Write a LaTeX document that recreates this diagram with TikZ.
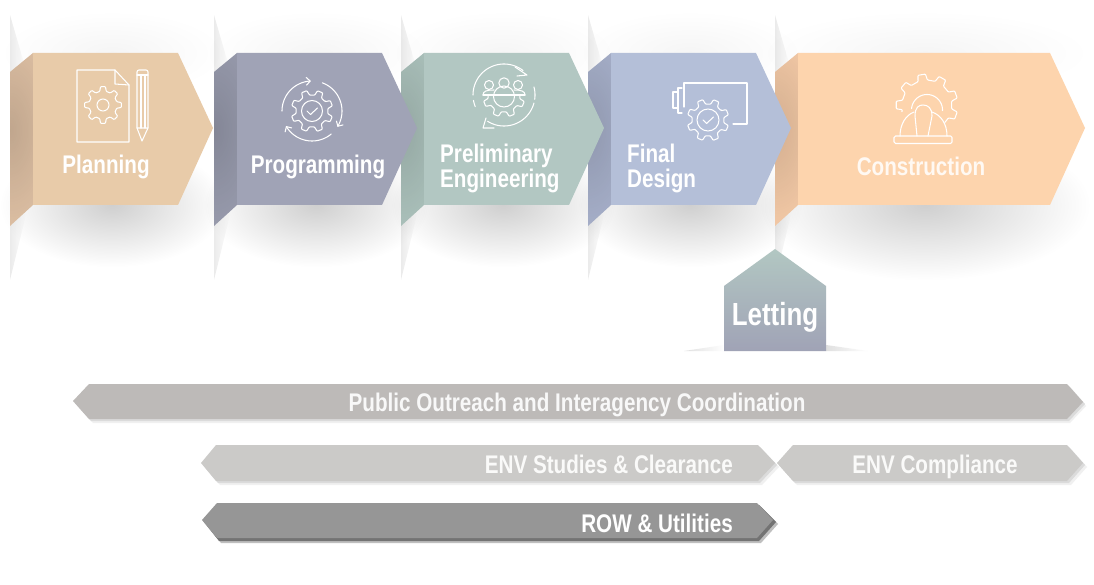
\documentclass[tikz,border=0pt]{standalone}
\usepackage{fontspec}
\usetikzlibrary{fadings,arrows.meta}
\newfontfamily\lblfont[FakeStretch=0.81]{Liberation Sans}
\definecolor{cPlan}{HTML}{E8CBA9}
\definecolor{cPlanF}{HTML}{DDBFA3}
\definecolor{cProg}{HTML}{A0A3B6}
\definecolor{cProgF}{HTML}{989BAD}
\definecolor{cPrel}{HTML}{B2C7C2}
\definecolor{cPrelF}{HTML}{ABC1BB}
\definecolor{cFinal}{HTML}{B4BFD8}
\definecolor{cFinalF}{HTML}{A6AFC9}
\definecolor{cCons}{HTML}{FDD4AD}
\definecolor{cConsF}{HTML}{F3C9A6}
\definecolor{cBarA}{HTML}{BDBAB8}
\definecolor{cBarB}{HTML}{CBCAC8}
\definecolor{cBarC}{HTML}{969696}
\tikzfading[name=softblob, inner color=transparent!0, outer color=transparent!100]
\tikzfading[name=fadeR, left color=transparent!0, right color=transparent!100]
\tikzset{
  iconline/.style={draw=white,line width=1.05pt,line join=round,line cap=round},
  steplabel/.style={text=white,font=\lblfont\bfseries\fontsize{25.5}{26}\selectfont,inner sep=0pt,anchor=base},
  barlabel/.style={text=white,font=\lblfont\bfseries\fontsize{25.5}{26}\selectfont,inner sep=0pt,anchor=base}
}
% gear: cx cy router rinner teeth rotation
\newcommand\gearicon[6]{%
  \pgfmathsetmacro\gst{360/#5}%
  \pgfmathtruncatemacro\glast{#5-1}%
  \begin{scope}[shift={(#1,#2)},rotate=#6]
  \draw[iconline,rounded corners=0.8pt] ({-.30*\gst}:#4)
    \foreach \gi in {0,...,\glast}{
      -- ({\gi*\gst-.30*\gst}:#4) -- ({\gi*\gst-.17*\gst}:#3)
      -- ({\gi*\gst+.17*\gst}:#3) -- ({\gi*\gst+.30*\gst}:#4)} -- cycle;
  \end{scope}}
% arc in image angles: cx cy r a b opts
\newcommand\ringarc[6]{%
  \draw[iconline,#6] plot[domain=#4:#5,samples=36] ({#1+#3*cos(\x)},{#2+#3*sin(\x)});}
% step: x xr main flap
\newcommand\stepshape[4]{%
  \fill[#4] (#1,72) -- (#1+23,53) -- (#1+23,205) -- (#1,226) -- cycle;
  \begin{scope}
    \clip (#1,72) -- (#1+23,53) -- (#1+23,205) -- (#1,226) -- cycle;
    \fill[black,opacity=.13,path fading=softblob] (#1-50,30) rectangle (#1+50,230);
  \end{scope}
  \fill[#3] (#1+23,53) -- (#2,53) -- (#2+35,128) -- (#2,205) -- (#1+23,205) -- cycle;}
% crease at x
\newcommand\stepcrease[1]{%
  \fill[black,opacity=.08,path fading=fadeR] (#1,15) -- (#1+16,70) -- (#1+16,215) -- (#1,280) -- cycle;}
% soft shadow: centre x, half width, half height
\newcommand\stepshadow[3]{%
  \fill[black,opacity=.04,path fading=softblob] (#1-#2,53-42) rectangle (#1+#2,53+42);
  \fill[black,opacity=.19,path fading=softblob] (#1-#2,205-#3) rectangle (#1+#2,205+#3);}
\newcommand\okmark[2]{\draw[iconline] (#1-5,#2) -- (#1-1.5,#2+3.5) -- (#1+5.5,#2-3);}
\begin{document}
\begin{tikzpicture}[x=1pt,y=-1pt]
\useasboundingbox (0,0) rectangle (1094,585);
\fill[white] (0,0) rectangle (1094,585);

% shadows and creases
\stepshadow{112}{112}{62}
\stepshadow{316}{112}{62}
\stepshadow{503}{112}{62}
\stepshadow{690}{112}{62}
\stepshadow{925}{165}{75}
\stepcrease{10}
\stepcrease{214}
\stepcrease{401}
\stepcrease{588}
\stepcrease{775}

% stages, right to left so that each tip lies over the next flap
\stepshape{775}{1050}{cCons}{cConsF}
\stepshape{588}{756}{cFinal}{cFinalF}
\stepshape{401}{569}{cPrel}{cPrelF}
\stepshape{214}{382}{cProg}{cProgF}
\stepshape{10}{178}{cPlan}{cPlanF}

% Planning icon
\draw[iconline] (77,70) -- (115,70) -- (129,85) -- (129,142) -- (77,142) -- cycle;
\draw[iconline] (115,70) -- (115,84) -- (129,85);
\gearicon{103}{105}{18.5}{14}{8}{0}
\draw[iconline] (103,105) circle[radius=6];
\draw[iconline,rounded corners=2pt] (137,128) -- (137,70) -- (148,70) -- (148,128);
\draw[iconline] (137,128) -- (142,141) -- (148,128) -- cycle;
\draw[iconline] (137,75) -- (148,75);
\draw[iconline] (141,75) -- (141,128) (145,75) -- (145,128);

% Programming icon
\gearicon{312}{111}{21}{16}{8}{22}
\draw[iconline] (312,111) circle[radius=10.5];
\okmark{312}{111}
\ringarc{312}{111}{30}{180}{268}{-{Straight Barb[length=4pt,width=8pt]}}
\ringarc{312}{111}{30}{290}{392}{-{Straight Barb[length=4pt,width=8pt]}}
\ringarc{312}{111}{30}{50}{150}{-{Straight Barb[length=4pt,width=8pt]}}

% Preliminary Engineering icon
\ringarc{504}{95}{31}{180}{308}{}
\ringarc{504}{95}{31}{15}{122}{}
\ringarc{504}{95}{31}{158}{170}{}
\ringarc{504}{95}{31}{345}{368}{}
\draw[iconline] (515,67) -- (527,75) -- (517,76);
\draw[iconline] (486,118) -- (483,128) -- (494,128);
\begin{scope}
  \clip (470,95) rectangle (540,125);
  \gearicon{504}{96}{21}{16}{8}{22}
\end{scope}
\draw[iconline] (483,95) -- (525,95);
\draw[iconline] (504,96.5) circle[radius=10.5];
\draw[iconline] (504,83) circle[radius=5.2];
\draw[iconline] (489,85) circle[radius=4.5];
\draw[iconline] (518,85) circle[radius=4.5];
\draw[iconline] (483,95) .. controls (483,91) and (487,90) .. (494,90);
\draw[iconline] (525,95) .. controls (525,91) and (521,90) .. (514,90);

% Final Design icon
\draw[iconline] (684,107) -- (684,83) -- (747,83) -- (747,124) -- (733,124);
\draw[iconline] (682,88) -- (678,88) -- (678,113) -- (682,113);
\draw[iconline] (678,92) -- (673,92) -- (673,108) -- (678,108);
\gearicon{708}{120}{21}{16}{8}{22}
\draw[iconline] (708,120) circle[radius=11];
\okmark{708}{120}

% Construction icon
\begin{scope}[shift={(927,105)}]
\draw[iconline,rounded corners=0.8pt] (165:26)
  \foreach \ga in {180,220,260,300,340,380}{
    -- ({\ga-11}:25) -- ({\ga-7}:31) -- ({\ga+7}:31) -- ({\ga+11}:25)} -- (405:25);
\end{scope}
\ringarc{927}{110}{15.5}{185}{362}{}
\draw[iconline] (900,136) .. controls (900,124) and (906,115) .. (914,112);
\draw[iconline] (947,136) .. controls (947,124) and (941,115) .. (932,112);
\draw[iconline] (917,136) -- (915,116) .. controls (915,107) and (919,105) .. (923,105) .. controls (928,105) and (932,108) .. (932,116) -- (928,136);
\draw[iconline,rounded corners=1.5pt] (894,136) rectangle (952,143.5);

% Letting
\fill[black!12,path fading=fadeR] (826,345) -- (868,351) -- (826,351) -- cycle;
\begin{scope}[xscale=-1]\fill[black!12,path fading=fadeR] (-724,345) -- (-684,351) -- (-724,351) -- cycle;\end{scope}
\shade[top color=cPrel,bottom color=cProg] (775,249) -- (826,286) -- (826,351) -- (724,351) -- (724,286) -- cycle;

% bars
\fill[black!6] (77,405) -- (93,423) -- (1070,423) -- (1086,406) -- (1071,388) -- (1060,388) -- cycle;
\fill[black!14] (75,403) -- (91,421) -- (1069,421) -- (1085,404) -- (1069,386) -- (1060,386) -- cycle;
\fill[cBarA] (73,401) -- (89,384) -- (1067,384) -- (1083,402) -- (1067,419) -- (89,419) -- cycle;

\fill[black!6] (205,467) -- (220,485) -- (762,485) -- (779,467) -- (762,449) -- cycle;
\fill[black!14] (203,465) -- (218,483) -- (760,483) -- (777,465) -- (760,447) -- cycle;
\fill[cBarB] (201,463) -- (216,445) -- (758,445) -- (775,463) -- (758,481) -- (216,481) -- cycle;

\fill[black!6] (781,467) -- (797,485) -- (1071,485) -- (1087,467) -- (1071,449) -- cycle;
\fill[black!14] (779,465) -- (795,483) -- (1069,483) -- (1085,465) -- (1069,447) -- cycle;
\fill[cBarB] (777,463) -- (793,445) -- (1067,445) -- (1083,463) -- (1067,481) -- (793,481) -- cycle;

\fill[black!25] (206,524) -- (221,543) -- (761,543) -- (778,524) -- (761,507) -- cycle;
\fill[black!55] (204,522) -- (219,541) -- (759,541) -- (776,522) -- (759,505) -- cycle;
\fill[cBarC] (202,520) -- (217,503) -- (757,503) -- (773,520) -- (757,538) -- (217,538) -- cycle;

% labels
\node[steplabel] (planning) at (106,174) {Planning};
\node[steplabel] (programming) at (318,174) {Programming};
\node[steplabel,anchor=base west] (prelim) at (440,163) {Preliminary};
\node[steplabel,anchor=base west] (engin) at (440,188) {Engineering};
\node[steplabel,anchor=base west] (final) at (627,163) {Final};
\node[steplabel,anchor=base west] (design) at (627,188) {Design};
\node[steplabel,text=white!85!cCons] (construction) at (921,176) {Construction};
\node[steplabel,font=\lblfont\bfseries\fontsize{32}{33}\selectfont] (letting) at (775,325) {Letting};
\node[barlabel,text=white!90!cBarA] (outreach) at (577,411) {Public Outreach and Interagency Coordination};
\node[barlabel,text=white!90!cBarB,anchor=base east] (studies) at (733,473) {ENV Studies \& Clearance};
\node[barlabel,text=white!90!cBarB] (compliance) at (935,473) {ENV Compliance};
\node[barlabel,anchor=base east] (row) at (733,532) {ROW \& Utilities};
\end{tikzpicture}
\end{document}
